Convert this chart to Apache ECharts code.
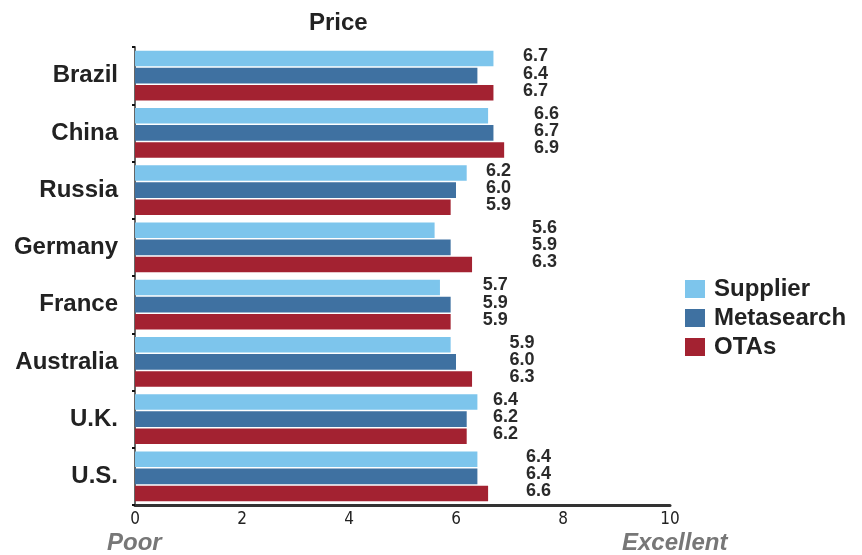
<!DOCTYPE html>
<html><head><meta charset="utf-8">
<script src="https://cdn.jsdelivr.net/npm/echarts@6/dist/echarts.min.js"></script>
<style>html,body{margin:0;padding:0;background:#fff}#c{width:862px;height:555px}</style>
</head><body><div id="c"></div>
<script>
const categories = ['Brazil','China','Russia','Germany','France','Australia','U.K.','U.S.'];
const supplier   = [6.7,6.6,6.2,5.6,5.7,5.9,6.4,6.4];
const metasearch = [6.4,6.7,6.0,5.9,5.9,6.0,6.2,6.4];
const otas       = [6.7,6.9,5.9,6.3,5.9,6.3,6.2,6.6];
const seriesNames = ['Supplier','Metasearch','OTAs'];
const xTickLabels = ['0','2','4','6','8','10'];
const axisEnds = ['Poor','Excellent'];
// layout only: axis value where each country's label column starts
const labelColumnX = [7.25,7.46,6.56,7.42,6.5,7.0,6.69,7.31];

const colors = ['#7DC5EC','#3F71A1','#A32231'];
const gridLeft = 135, gridRight = 192;
const gridWidth = 862 - gridLeft - gridRight;
const xMax = 10;
const pxPerUnit = gridWidth / xMax;

function mk(vals, name, color){
  return {
    name, type:'bar', barCategoryGap:'13%', barGap:'10%',
    itemStyle:{color},
    label:{show:true, align:'left', verticalAlign:'middle', offset:[0,-2],
      formatter:p=>Number(p.value).toFixed(1),
      fontFamily:'Liberation Sans, Arial, sans-serif', fontWeight:'bold', fontSize:18, color:'#2a2a2a'},
    data: vals.map((v,i)=>({value:v, label:{position:[labelColumnX[i]*pxPerUnit,'50%']}}))
  };
}

const chart = echarts.init(document.getElementById('c'), null, {renderer:'canvas'});
chart.setOption({
  animation:false,
  backgroundColor:'#fff',
  title:{text:'Price', left:304, top:6,
    textStyle:{fontFamily:'Liberation Sans, Arial, sans-serif', fontWeight:'bold', fontSize:24, color:'#222'}},
  legend:{orient:'vertical', left:680, top:272, itemWidth:20, itemHeight:18, itemGap:5,
    icon:'rect', data:seriesNames,
    textStyle:{fontFamily:'Liberation Sans, Arial, sans-serif', fontWeight:'bold', fontSize:24, color:'#222', padding:[0,0,0,4]}},
  grid:{left:gridLeft, right:gridRight, top:47, bottom:50, containLabel:false},
  xAxis:{type:'value', min:0, max:xMax, interval:2,
    axisLine:{show:true, lineStyle:{color:'#333', width:3}},
    axisTick:{show:false}, splitLine:{show:false},
    axisLabel:{margin:6, formatter:v=>xTickLabels[Math.round(v/2)],
      fontFamily:"'Liberation Sans Narrow','DejaVu Sans Condensed', sans-serif", fontSize:17, color:'#222'}},
  yAxis:{type:'category', data:categories, inverse:true,
    axisLine:{show:true, lineStyle:{color:'#666', width:2}},
    axisTick:{show:true, length:3, lineStyle:{color:'#111', width:2}},
    axisLabel:{margin:17, fontFamily:'Liberation Sans, Arial, sans-serif', fontWeight:'bold', fontSize:24, color:'#222'}},
  series:[mk(supplier,seriesNames[0],colors[0]), mk(metasearch,seriesNames[1],colors[1]), mk(otas,seriesNames[2],colors[2])],
  graphic:[
    {type:'text', left:107, top:531, style:{text:axisEnds[0], font:'italic bold 24px Liberation Sans, Arial, sans-serif', fill:'#777'}},
    {type:'text', left:622, top:531, style:{text:axisEnds[1], font:'italic bold 24px Liberation Sans, Arial, sans-serif', fill:'#777'}}
  ]
});
</script></body></html>
